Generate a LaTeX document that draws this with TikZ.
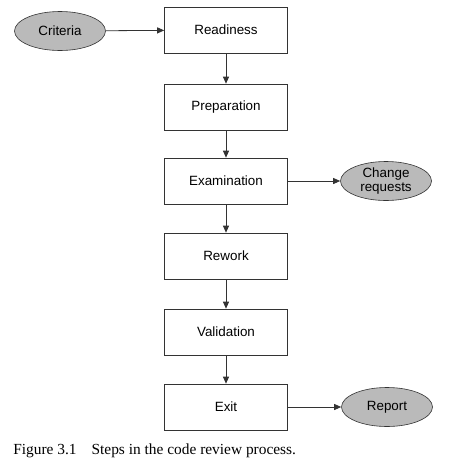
\documentclass[tikz,border=0pt]{standalone}
\usepackage{fontspec}
\setmainfont{Liberation Serif}
\newfontfamily\boxfont{Liberation Sans}
\usetikzlibrary{arrows.meta,shapes.geometric}

\tikzset{
  stepbox/.style={draw=black!80, fill=white, minimum width=123pt, minimum height=46pt,
    inner sep=0pt, font=\boxfont\fontsize{13.4}{15}\selectfont},
  outbox/.style={ellipse, draw=black!80, fill=black!27, minimum width=91pt, minimum height=39pt,
    inner sep=0pt, align=center, font=\boxfont\fontsize{13.4}{15}\selectfont},
  flow/.style={-{Triangle[length=7pt,width=6pt]}, draw=black!80, thick}
}

\begin{document}
\begin{tikzpicture}[x=1pt, y=-1pt, line width=0.6pt]

  \useasboundingbox (0,0) rectangle (449,464);

  % --- Process steps ---
  \node[stepbox] (ready) at (226, 30)  {Readiness};
  \node[stepbox] (prep)  at (226, 107) {Preparation};
  \node[stepbox] (exam)  at (226, 181) {Examination};
  \node[stepbox] (rework) at (226, 256) {Rework};
  \node[stepbox] (valid) at (226, 332) {Validation};
  \node[stepbox] (exit)  at (226, 407) {Exit};

  % --- Inputs and outputs ---
  \node[outbox] (crit)   at (60, 31)   {Criteria};
  \node[outbox] (change) at (386, 181) {Change\\[-1pt]requests};
  \node[outbox] (report) at (387, 407) {Report};

  % --- Connectors ---
  \draw[flow] (crit) -- (ready);
  \draw[flow] (ready) -- (prep);
  \draw[flow] (prep) -- (exam);
  \draw[flow] (exam) -- (rework);
  \draw[flow] (rework) -- (valid);
  \draw[flow] (valid) -- (exit);
  \draw[flow] (exam) -- (change);
  \draw[flow] (exit) -- (report);

  % --- Caption ---
  \node[anchor=west, inner sep=0pt, font=\fontsize{15.4}{17}\selectfont] (caption) at (13, 451)
    {Figure 3.1\hspace{15pt}Steps in the code review process.};

\end{tikzpicture}
\end{document}
